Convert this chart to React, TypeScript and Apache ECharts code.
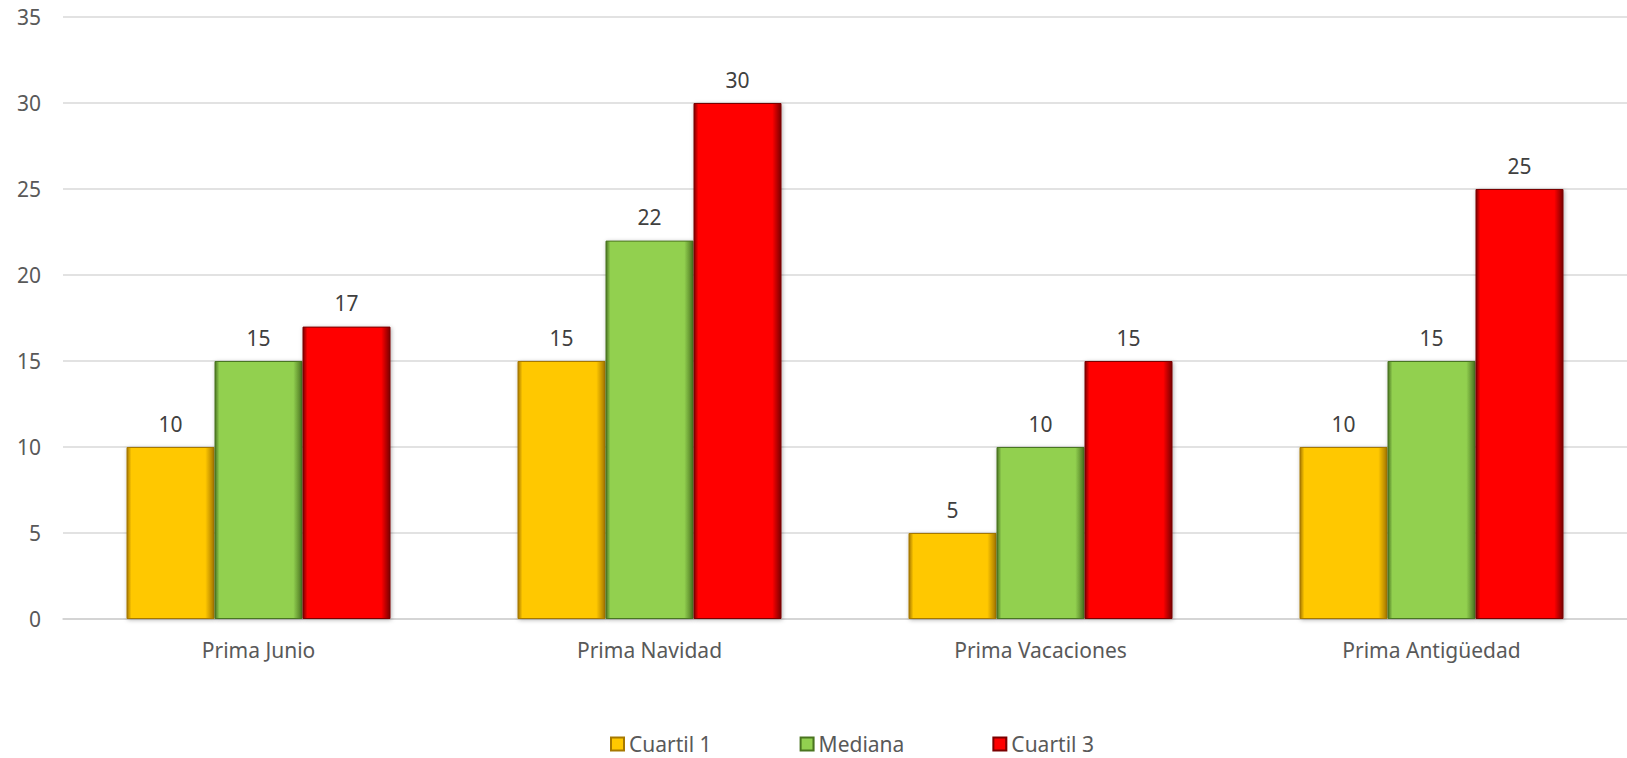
import React, { useEffect, useRef } from "react";
import * as echarts from "echarts";

const categories = ["Prima Junio", "Prima Navidad", "Prima Vacaciones", "Prima Antigüedad"];
const cuartil1 = [10, 15, 5, 10];
const mediana = [15, 22, 10, 15];
const cuartil3 = [17, 30, 15, 25];
const seriesNames = ["Cuartil 1", "Mediana", "Cuartil 3"];
const mainColors = ["#FFC800", "#92D050", "#FF0000"];
const edgeColors = ["#A67800", "#4A7420", "#7A0000"];

function bevel(main: string, edge: string) {
  return new echarts.graphic.LinearGradient(0, 0, 1, 0, [
    { offset: 0, color: edge },
    { offset: 0.05, color: main },
    { offset: 0.9, color: main },
    { offset: 1, color: edge },
  ]);
}

export default function App() {
  const ref = useRef<HTMLDivElement>(null);
  useEffect(() => {
    document.body.style.margin = "0";
    const chart = echarts.init(ref.current!, undefined, { renderer: "svg" });
    const font = "'Noto Sans', sans-serif";
    const datasets = [cuartil1, mediana, cuartil3];
    chart.setOption({
      animation: false,
      backgroundColor: "#ffffff",
      grid: { left: 63, right: -19, top: 17, bottom: 139, containLabel: false },
      legend: {
        left: 610,
        top: 732,
        padding: 0,
        itemWidth: 13,
        itemHeight: 13,
        itemGap: 88,
        icon: "rect",
        textStyle: { color: "#595959", fontSize: 21, lineHeight: 24, fontFamily: font },
        data: seriesNames.map((n, i) => ({
          name: n,
          itemStyle: { color: bevel(mainColors[i], edgeColors[i]) },
        })),
      },
      xAxis: {
        type: "category",
        data: categories,
        axisTick: { show: false },
        axisLine: { lineStyle: { color: "#d0d0d0", width: 1.5 } },
        axisLabel: { color: "#595959", fontSize: 21, fontFamily: font, margin: 20 },
      },
      yAxis: {
        type: "value",
        min: 0,
        max: 35,
        interval: 5,
        axisLine: { show: false },
        axisTick: { show: false },
        splitLine: { lineStyle: { color: "#d9d9d9", width: 1.5 } },
        axisLabel: { color: "#595959", fontSize: 21, fontFamily: font, margin: 22 },
      },
      series: seriesNames.map((n, i) => ({
        name: n,
        type: "bar",
        data: datasets[i],
        barWidth: 88,
        barGap: "0%",
        itemStyle: {
          color: bevel(mainColors[i], edgeColors[i]),
          borderColor: edgeColors[i],
          borderWidth: 1,
          shadowColor: "rgba(0,0,0,0.3)",
          shadowBlur: 4,
          shadowOffsetX: 1,
          shadowOffsetY: 1,
        },
        label: {
          show: true,
          position: "top",
          distance: 13,
          color: "#404040",
          fontSize: 21,
          fontFamily: font,
        },
      })),
    });
    return () => chart.dispose();
  }, []);
  return (
    <div
      ref={ref}
      style={{ position: "absolute", left: 0, top: 0, width: 1627, height: 758 }}
    />
  );
}
